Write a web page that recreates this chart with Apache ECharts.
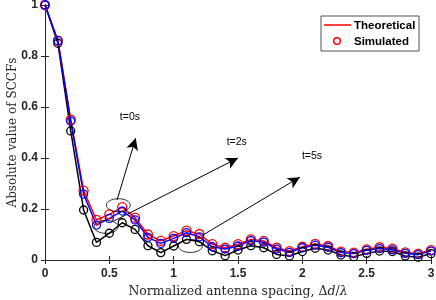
<!DOCTYPE html>
<html><head><meta charset="utf-8">
<script src="https://cdn.jsdelivr.net/npm/echarts@6/dist/echarts.min.js"></script>
<style>html,body{margin:0;padding:0;background:#fff}#c{width:436px;height:300px}</style>
</head><body><div id="c"></div>
<script>
const xs = [0,0.1,0.2,0.3,0.4,0.5,0.6,0.7,0.8,0.9,1.0,1.1,1.2,1.3,1.4,1.5,1.6,1.7,1.8,1.9,2.0,2.1,2.2,2.3,2.4,2.5,2.6,2.7,2.8,2.9,3.0];
const t0 = [1,0.86,0.55,0.272,0.157,0.179,0.207,0.166,0.10,0.075,0.094,0.115,0.102,0.062,0.048,0.062,0.081,0.075,0.048,0.035,0.052,0.063,0.055,0.033,0.029,0.042,0.05,0.045,0.03,0.025,0.039];
const t2 = [1,0.86,0.545,0.258,0.137,0.163,0.192,0.157,0.089,0.065,0.085,0.107,0.091,0.052,0.043,0.055,0.076,0.07,0.043,0.03,0.048,0.058,0.05,0.029,0.025,0.038,0.045,0.04,0.026,0.021,0.035];
const t5 = [1,0.85,0.506,0.196,0.069,0.105,0.146,0.12,0.056,0.029,0.055,0.081,0.072,0.036,0.017,0.039,0.056,0.048,0.022,0.016,0.033,0.046,0.039,0.02,0.013,0.026,0.035,0.033,0.016,0.011,0.025];
const annLabels = ['t=0s','t=2s','t=5s'];
const annTextPos = [[0.66,0.56],[1.49,0.463],[2.075,0.408]];
const arrows = [[[0.56,0.235],[0.705,0.478]],[[0.536,0.153],[1.5,0.4]],[[1.228,0.098],[1.981,0.325]]];
const ellipses = [[0.57,0.215],[0.475,0.13],[1.13,0.055]];
const legendNames = ['Theoretical','Simulated'];

const pairs = a => xs.map((x,i)=>[x,a[i]]);
const tickCol = '#262626';
const chart = echarts.init(document.getElementById('c'));
function mkSeries(name, data, color, size){
  return {type:'line', name:name, data:pairs(data), symbol:'circle', symbolSize:size, clip:false,
    showAllSymbol:true, lineStyle:{color:color,width:1.5}, itemStyle:{color:'rgba(0,0,0,0)',borderColor:color,borderWidth:1.3},
    emphasis:{disabled:true}, z:3, animation:false};
}
const axisCommon = {axisLine:{lineStyle:{color:tickCol,width:1}}, splitLine:{show:false},
  axisTick:{inside:true,length:4,lineStyle:{color:tickCol}}};
chart.setOption({
  animation:false,
  grid:{left:45,right:5,top:5,bottom:40,containLabel:false,outerBoundsMode:'none'},
  xAxis:[
    Object.assign({type:'value',min:0,max:3,interval:0.5,
      name:'Normalized antenna spacing, Δ{i|d}/{i|λ}',nameLocation:'middle',nameGap:22,
      nameTextStyle:{fontFamily:'DejaVu Serif',fontSize:12.5,color:tickCol,
        rich:{i:{fontFamily:'DejaVu Serif',fontStyle:'italic',fontSize:12.5,color:tickCol}}},
      axisLabel:{fontFamily:'Liberation Sans',fontWeight:'bold',fontSize:12,color:tickCol,margin:8}},axisCommon),
    Object.assign({type:'value',min:0,max:3,interval:0.5,position:'top',axisLabel:{show:false}},axisCommon)
  ],
  yAxis:[
    Object.assign({type:'value',min:0,max:1,interval:0.2,
      name:'Absolute value of SCCFs',nameLocation:'middle',nameGap:26,
      nameTextStyle:{fontFamily:'DejaVu Serif',fontSize:12,color:tickCol,padding:[0,0,0,0]},
      nameMoveOverlap:false,
      axisLabel:{fontFamily:'Liberation Sans',fontWeight:'bold',fontSize:12,color:tickCol,margin:7}},axisCommon),
    Object.assign({type:'value',min:0,max:1,interval:0.2,position:'right',axisLabel:{show:false}},axisCommon)
  ],
  series:[
    mkSeries('t5',t5,'#000000',8),
    mkSeries('t0',t0,'#ff0000',9),
    mkSeries('t2',t2,'#0000ff',8),
    {type:'line',data:[],markLine:{silent:true,symbol:['none','arrow'],symbolSize:[9,12],
      lineStyle:{color:'#000',width:1,type:'solid'},label:{show:false},
      data:arrows.map(a=>[{coord:a[0]},{coord:a[1]}])}}
  ]
});
const g = [];
ellipses.forEach(e=>{
  const p = chart.convertToPixel({xAxisIndex:0,yAxisIndex:0},e);
  g.push({type:'ellipse',shape:{cx:p[0],cy:p[1],rx:12,ry:6.5},style:{fill:'none',stroke:'#000',lineWidth:0.8},z:10});
});
annLabels.forEach((t,i)=>{
  const p = chart.convertToPixel({xAxisIndex:0,yAxisIndex:0},annTextPos[i]);
  g.push({type:'text',x:p[0],y:p[1],style:{text:t,fontFamily:'Liberation Sans',fontSize:10.5,fill:'#000',align:'center',verticalAlign:'middle'},z:10});
});
// legend
g.push({type:'rect',shape:{x:321,y:16,width:98,height:35},style:{fill:'#fff',stroke:tickCol,lineWidth:0.8},z:20});
g.push({type:'line',shape:{x1:324,y1:25,x2:351,y2:25},style:{stroke:'#ff0000',lineWidth:1.5},z:21});
g.push({type:'circle',shape:{cx:337,cy:41,r:3.3},style:{fill:'none',stroke:'#ff0000',lineWidth:1.5},z:21});
g.push({type:'text',x:354,y:26,style:{text:legendNames[0],fontFamily:'Liberation Sans',fontWeight:'bold',fontSize:11.5,fill:'#000',verticalAlign:'middle'},z:21});
g.push({type:'text',x:354,y:42,style:{text:legendNames[1],fontFamily:'Liberation Sans',fontWeight:'bold',fontSize:11.5,fill:'#000',verticalAlign:'middle'},z:21});
chart.setOption({graphic:g});
</script></body></html>
